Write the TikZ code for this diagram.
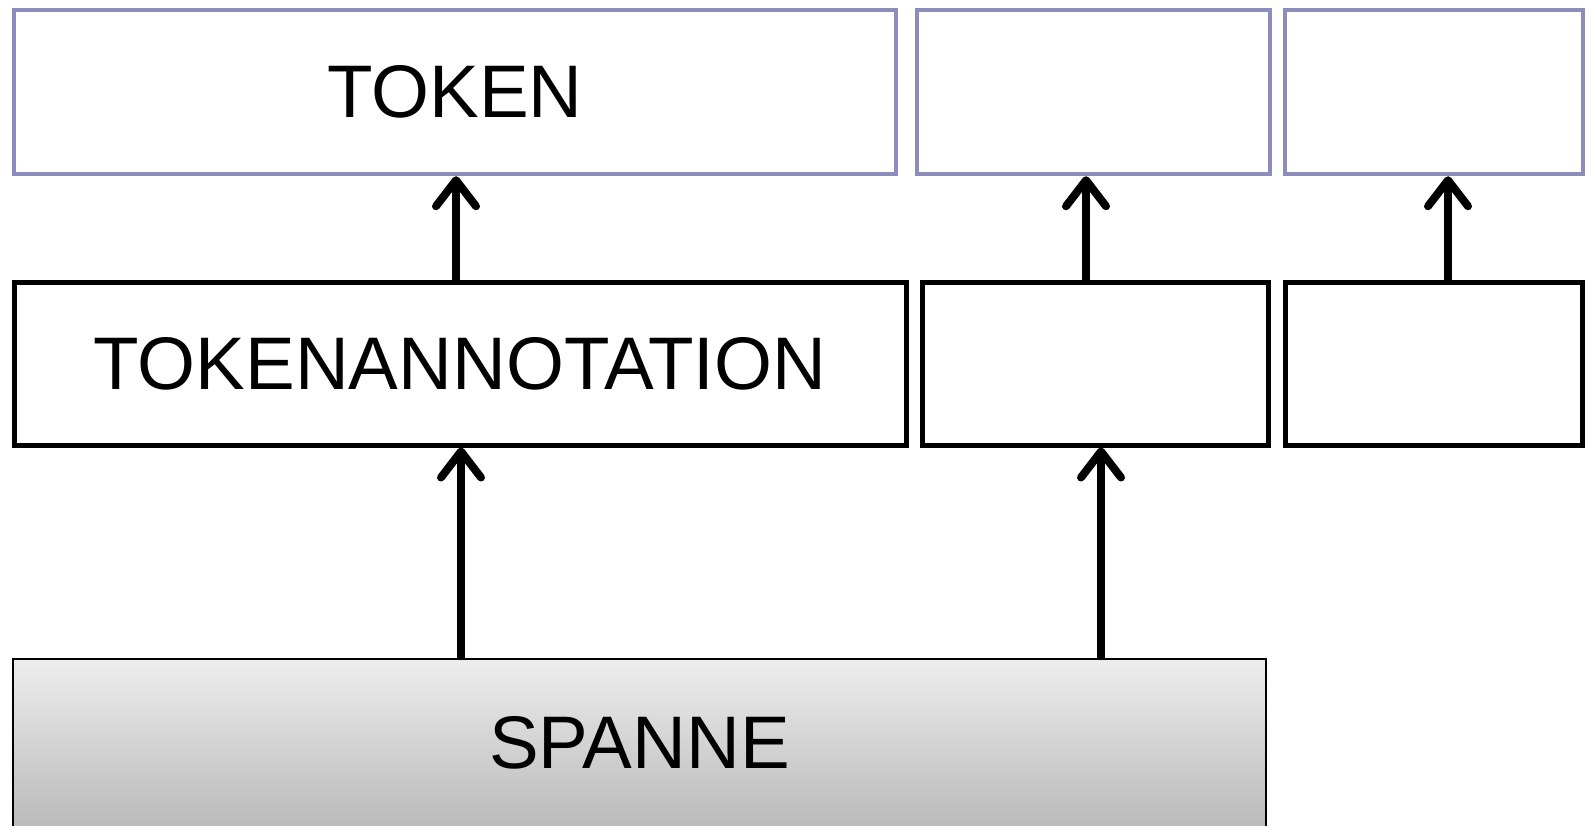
\documentclass[tikz,border=0pt]{standalone}
\usepackage{fontspec}
\setmainfont{Liberation Sans}
\usetikzlibrary{arrows.meta}
\definecolor{tokpurple}{RGB}{140,141,189}
\definecolor{spantop}{RGB}{237,237,237}
\definecolor{spanbot}{RGB}{186,186,186}
\tikzset{
  tokbox/.style={draw=tokpurple, line width=4.5pt, rectangle, inner sep=0pt, font=\fontsize{74.5}{80}\selectfont},
  annbox/.style={draw=black, line width=5pt, rectangle, inner sep=0pt, font=\fontsize{74.5}{80}\selectfont},
  spanbox/.style={draw=black, line width=2pt, rectangle, inner sep=0pt, top color=spantop, bottom color=spanbot, font=\fontsize{74.5}{80}\selectfont},
  arr/.style={line width=8pt, -{Straight Barb[length=26pt, width=40pt, round]}}
}
\begin{document}
\begin{tikzpicture}[x=1pt,y=-1pt]
\useasboundingbox[fill=white] (0,0) rectangle (1590,826);
% top row
\node[tokbox, minimum width=882pt, minimum height=164pt] (t1) at (455,92) {TOKEN};
\node[tokbox, minimum width=353pt, minimum height=164pt] (t2) at (1093.5,92) {};
\node[tokbox, minimum width=298pt, minimum height=164pt] (t3) at (1434,92) {};
% middle row
\node[annbox, minimum width=892pt, minimum height=162pt] (a1) at (460,364) {TOKENANNOTATION};
\node[annbox, minimum width=346pt, minimum height=162pt] (a2) at (1095,364) {};
\node[annbox, minimum width=297pt, minimum height=162pt] (a3) at (1433.5,364) {};
% bottom
\node[spanbox, minimum width=1253pt, minimum height=168pt] (s) at (639.5,743) {SPANNE};
% arrows
\draw[arr] ([xshift=-4pt]a1.north) -- ([xshift=-4pt]a1.north |- t1.south);
\draw[arr] ([xshift=-9pt]a2.north) -- ([xshift=-9pt]a2.north |- t2.south);
\draw[arr] ([xshift=14.5pt]a3.north) -- ([xshift=14.5pt]a3.north |- t3.south);
\draw[arr] ([xshift=1pt]a1.south |- s.north) -- ([xshift=1pt]a1.south);
\draw[arr] ([xshift=6pt]a2.south |- s.north) -- ([xshift=6pt]a2.south);
\end{tikzpicture}
\end{document}
